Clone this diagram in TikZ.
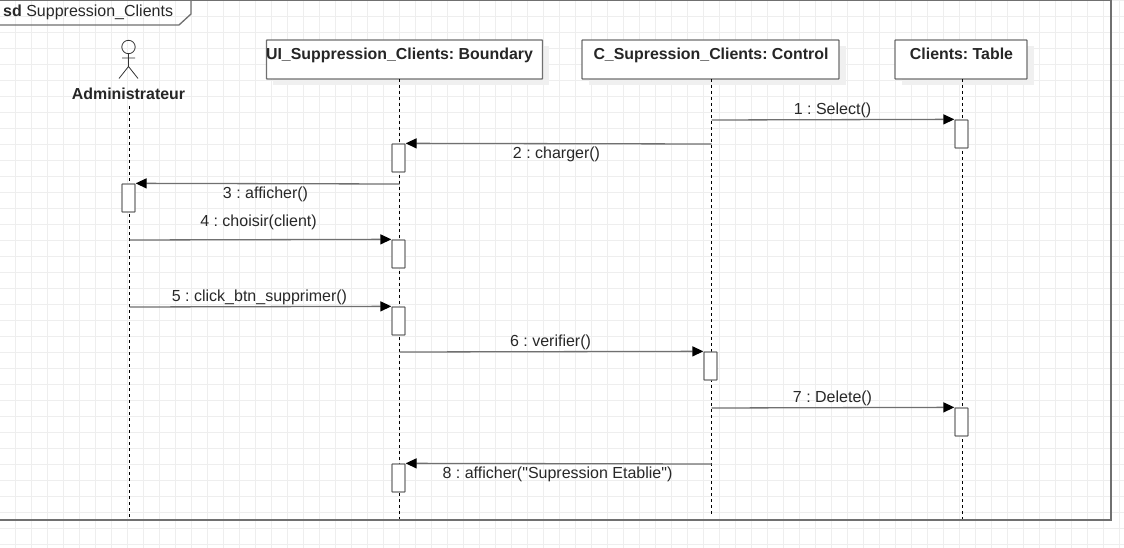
\documentclass[tikz,border=0pt]{standalone}
\usepackage{fontspec}
\setmainfont{Liberation Sans}
\newfontfamily\plainf{Liberation Sans}
\usetikzlibrary{arrows.meta}
\definecolor{gridc}{RGB}{238,238,238}
\definecolor{ln}{RGB}{112,112,112}
\definecolor{tx}{RGB}{40,40,40}
\tikzset{x=1pt,y=-1pt,
 obj/.style={draw=ln,fill=white,line width=1.3pt,inner sep=0,minimum height=39pt,rounded corners=0.6pt},
 act/.style={draw=ln,fill=white,line width=1.3pt,minimum width=13pt,minimum height=28pt,inner sep=0,rounded corners=0.6pt},
 life/.style={draw=black,line width=0.8pt,dash pattern=on 3pt off 3pt},
 msg/.style={draw=ln,line width=1.3pt,-{Triangle[length=11pt,width=10pt,black]}},
 lab/.style={font=\frenchspacing\fontsize{16}{18}\selectfont,text=tx,inner sep=0,anchor=base},
 blab/.style={font=\frenchspacing\bfseries\fontsize{15.9}{18}\selectfont,text=black!85,inner sep=0,anchor=base}}
\begin{document}
\begin{tikzpicture}
\useasboundingbox (0,0) rectangle (1124,548);
\fill[white] (0,0) rectangle (1124,548);
\foreach \i in {15,31,...,1124} \draw[gridc,line width=0.8pt] (\i,0)--(\i,548);
\foreach \i in {0,16,...,548} \draw[gridc,line width=0.8pt] (0,\i)--(1124,\i);
\coordinate (fa) at (-2,0); \coordinate (fb) at (1111,0); \coordinate (fc) at (1111,520); \coordinate (fd) at (-2,520);
\draw[line width=1.3pt,ln] (fa)--(fb)--(fc)--(fd);
\draw[line width=1.3pt,ln] (-2,25)--(179,25)--(191,14)--(191,0);
\node[lab,anchor=base west] (title) at (3,17) {\textbf{sd} Suppression\_Clients};
% actor
\coordinate (head) at (128.5,47);
\draw[line width=0.8pt,black!80] (head) circle (6.7pt);
\draw[line width=0.8pt,black!80] (128.5,53.7)--(128.5,66.5) (122,58)--(135,58) (119,78.5)--(128.5,66.5)--(138,78.5);
\node[blab] (adm) at (128.5,100) {Administrateur};
\fill[black!6] (273,46) rectangle (549,85);
\node[obj,minimum width=276pt] (ui) at (404.5,59.5) {};
\node[blab] (uit) at (399.5,59.7) {UI\_Suppression\_Clients: Boundary};
\fill[black!6] (589,46) rectangle (846,85);
\node[obj,minimum width=257pt] (c) at (710.5,59.5) {};
\node[blab] (ct) at (711,59.7) {C\_Supression\_Clients: Control};
\fill[black!6] (902,46) rectangle (1034,85);
\node[obj,minimum width=132pt] (t) at (961,59.5) {};
\node[blab] (tt) at (961.5,59.7) {Clients: Table};
\coordinate (l1a) at (129.5,106); \coordinate (l1b) at (129.5,519);
\coordinate (l2a) at (399.5,79); \coordinate (l2b) at (399.5,519);
\coordinate (l3a) at (711.5,79); \coordinate (l3b) at (711.5,516);
\coordinate (l4a) at (962.5,79); \coordinate (l4b) at (962.5,519);
\draw[life] (l1a)--(l1b); \draw[life] (l2a)--(l2b); \draw[life] (l3a)--(l3b); \draw[life] (l4a)--(l4b);
\node[act] (a1) at (961.5,134) {};
\node[act] (a2) at (398.5,158) {};
\node[act] (a3) at (128.5,198) {};
\node[act] (a4) at (398.5,254) {};
\node[act] (a5) at (398.5,321) {};
\node[act] (a6) at (710.5,366) {};
\node[act] (a7) at (961.5,422) {};
\node[act] (a8) at (398.5,478) {};
\coordinate (s1) at (711.5,120); \coordinate (s2) at (711.5,144); \coordinate (s3) at (399.5,184);
\coordinate (s4) at (129.5,240); \coordinate (s5) at (129.5,307); \coordinate (s6) at (399.5,352);
\coordinate (s7) at (711.5,408); \coordinate (s8) at (711.5,464);
\draw[msg] (s1)--(a1.north west);
\draw[msg] (s2)--(a2.north east);
\draw[msg] (s3)--(a3.north east);
\draw[msg] (s4)--(a4.north west);
\draw[msg] (s5)--(a5.north west);
\draw[msg] (s6)--(a6.north west);
\draw[msg] (s7)--(a7.north west);
\draw[msg] (s8)--(a8.north east);
\node[lab] (m1) at (832.5,114.5) {1 : Select()};
\node[lab] (m2) at (556.5,158.5) {2 : charger()};
\node[lab] (m3) at (265.5,198.5) {3 : afficher()};
\node[lab] (m4) at (258.5,226.5) {4 : choisir(client)};
\node[lab] (m5) at (259.5,301.5) {5 : click\_btn\_supprimer()};
\node[lab] (m6) at (550.5,346.5) {6 : verifier()};
\node[lab] (m7) at (832.5,402.5) {7 : Delete()};
\node[lab] (m8) at (557.5,478.5) {\plainf 8 : afficher("Supression Etablie")};
\end{tikzpicture}
\end{document}
